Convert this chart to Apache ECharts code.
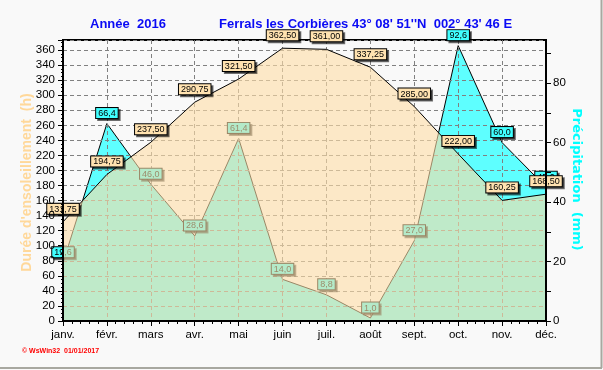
<!DOCTYPE html>
<html>
<head>
<meta charset="utf-8">
<script src="https://cdn.jsdelivr.net/npm/echarts@6/dist/echarts.min.js"></script>
<style>
html,body{margin:0;padding:0;background:#F9F9F9;}
#chart{width:603px;height:370px;}
</style>
</head>
<body>
<div id="chart"></div>
<script>
// ---- data ----
const months = ['janv.', 'févr.', 'mars', 'avr.', 'mai', 'juin', 'juil.', 'août', 'sept.', 'oct.', 'nov.', 'déc.'];
const sunshine = [131.75, 194.75, 237.50, 290.75, 321.50, 362.50, 361.00, 337.25, 285.00, 222.00, 160.25, 168.50];
const precipitation = [19.6, 66.4, 46.0, 28.6, 61.4, 14.0, 8.8, 1.0, 27.0, 92.6, 60.0, 45.0];
const sunshineAxis = { min: 0, max: 373.4, step: 20 };
const precipAxis = { min: 0, max: 94.5, step: 10, labelStep: 20 };
const titleYear = 'Année  2016';
const titleStation = "Ferrals les Corbières 43° 08' 51''N  002° 43' 46 E";
const leftName = "Durée d'ensoleillement  (h)";
const rightName = 'Précipitation  (mm)';
const footer = '© WsWin32  01/01/2017';

const FONT = 'Liberation Sans, Arial, sans-serif';
const fmt = (d) => (v) => v.toFixed(d).replace('.', ',');

const chart = echarts.init(document.getElementById('chart'), null, { renderer: 'canvas' });

const labelBox = (bg, dist, digits) => ({
  show: true,
  position: 'top',
  distance: dist,
  formatter: (p) => fmt(digits)(p.value),
  color: '#000',
  fontFamily: FONT,
  fontSize: 9,
  lineHeight: 9,
  backgroundColor: bg,
  borderColor: '#000',
  borderWidth: 1,
  padding: [1, 2, 0, 2],
  shadowColor: 'rgba(0,0,0,0.55)',
  shadowOffsetX: 2,
  shadowOffsetY: 2,
  shadowBlur: 0
});

const option = {
  animation: false,
  backgroundColor: '#F9F9F9',
  grid: {
    left: 63, right: 57, top: 40, bottom: 49,
    show: true, backgroundColor: '#F9F9F9', borderColor: '#000', borderWidth: 2
  },
  xAxis: [
    {
      type: 'category', data: months, boundaryGap: false, position: 'bottom', z: 5,
      axisLine: { lineStyle: { color: '#000', width: 2 } },
      axisTick: { length: 5, lineStyle: { color: '#000' } },
      axisLabel: { color: '#000', fontFamily: FONT, fontSize: 11.5, margin: 8 },
      splitLine: { show: false }
    },
    {
      type: 'category', data: months, boundaryGap: false, position: 'bottom', z: 2,
      axisLine: { show: false }, axisTick: { show: false }, axisLabel: { show: false },
      splitLine: { show: true, lineStyle: { color: '#808080', type: [4, 3], width: 1 } }
    },
    {
      type: 'value', min: 0, max: months.length - 1, interval: 1, position: 'bottom', z: 5,
      axisLine: { show: false }, axisTick: { show: false }, axisLabel: { show: false },
      splitLine: { show: false },
      minorTick: { show: true, splitNumber: 5, length: 3, lineStyle: { color: '#000' } }
    }
  ],
  yAxis: [
    {
      type: 'value', position: 'left', min: sunshineAxis.min, max: sunshineAxis.max, interval: sunshineAxis.step, z: 5,
      axisLine: { show: true, lineStyle: { color: '#000', width: 2 } },
      axisTick: { show: true, length: 5, lineStyle: { color: '#000' } },
      minorTick: { show: true, splitNumber: 4, length: 2, lineStyle: { color: '#000' } },
      axisLabel: { color: '#000', fontFamily: FONT, fontSize: 11.5, margin: 8, showMaxLabel: false },
      splitLine: { show: false }
    },
    {
      type: 'value', position: 'right', min: precipAxis.min, max: precipAxis.max, interval: precipAxis.step, z: 5,
      axisLine: { show: true, lineStyle: { color: '#000', width: 2 } },
      axisTick: { show: true, length: 5, lineStyle: { color: '#000' } },
      axisLabel: {
        color: '#000', fontFamily: FONT, fontSize: 11.5, margin: 7, showMaxLabel: false,
        formatter: (v) => (Math.abs(v % precipAxis.labelStep) < 1e-6 ? String(v) : '')
      },
      splitLine: { show: false }
    },
    {
      type: 'value', position: 'left', min: sunshineAxis.min, max: sunshineAxis.max, interval: sunshineAxis.step, z: 2,
      axisLine: { show: false }, axisTick: { show: false }, axisLabel: { show: false },
      splitLine: { show: true, lineStyle: { color: '#808080', type: [4, 3], width: 1 } }
    }
  ],
  series: [
    {
      name: 'precip-area', type: 'line', xAxisIndex: 0, yAxisIndex: 1, z: 1,
      data: precipitation, symbol: 'none',
      lineStyle: { color: '#000', width: 1 },
      areaStyle: { color: '#5EFFFF', opacity: 1 },
      emphasis: { disabled: true }, silent: true
    },
    {
      name: 'precip-labels', type: 'line', xAxisIndex: 0, yAxisIndex: 1, z: 3,
      data: precipitation, symbol: 'circle', symbolSize: 1,
      itemStyle: { color: 'rgba(0,0,0,0)' },
      lineStyle: { width: 0, color: 'rgba(0,0,0,0)' },
      label: labelBox('#40FFFF', 5, 1),
      emphasis: { disabled: true }, silent: true
    },
    {
      name: 'sunshine', type: 'line', xAxisIndex: 0, yAxisIndex: 0, z: 4,
      data: sunshine, symbol: 'circle', symbolSize: 1,
      itemStyle: { color: 'rgba(0,0,0,0)' },
      lineStyle: { color: '#000', width: 1 },
      areaStyle: { color: 'rgb(254,221,166)', opacity: 0.61 },
      label: labelBox('#FFE2B0', 7.5, 2),
      emphasis: { disabled: true }, silent: true
    }
  ],
  graphic: [
    { type: 'text', x: 90, y: 24, silent: true,
      style: { text: titleYear, font: 'bold 13px ' + FONT, fill: '#0A0AF5', textAlign: 'left', textVerticalAlign: 'middle' } },
    { type: 'text', x: 219, y: 24, silent: true,
      style: { text: titleStation, font: 'bold 13px ' + FONT, fill: '#0A0AF5', textAlign: 'left', textVerticalAlign: 'middle' } },
    { type: 'text', x: 27.5, y: 182.5, rotation: Math.PI / 2, silent: true,
      style: { text: leftName, font: 'bold 14px ' + FONT, fill: '#FFD89A', textAlign: 'center', textVerticalAlign: 'middle' } },
    { type: 'text', x: 576, y: 179.5, rotation: -Math.PI / 2, silent: true,
      style: { text: rightName, font: 'bold 13px DejaVu Sans, sans-serif', fill: '#00FFFF', textAlign: 'center', textVerticalAlign: 'middle' } },
    { type: 'text', x: 22, y: 351, silent: true,
      style: { text: footer, font: 'bold 7px ' + FONT, fill: '#FF0000', textAlign: 'left', textVerticalAlign: 'middle' } },
    { type: 'line', silent: true, shape: { x1: 0, y1: 368, x2: 602, y2: 368 }, style: { stroke: '#A8A8A0', lineWidth: 2 } },
    { type: 'line', silent: true, shape: { x1: 601.5, y1: 0, x2: 601.5, y2: 368 }, style: { stroke: '#A8A8A0', lineWidth: 2 } }
  ]
};

chart.setOption(option);
</script>
</body>
</html>
